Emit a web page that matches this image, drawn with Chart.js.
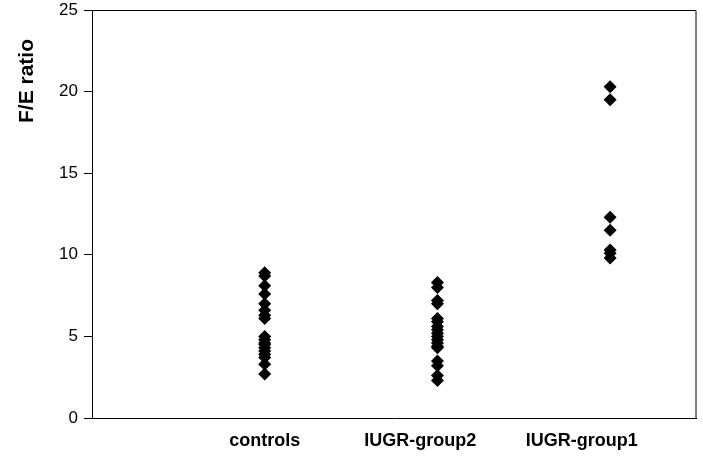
<!DOCTYPE html>
<html>
<head>
<meta charset="utf-8">
<script src="https://cdn.jsdelivr.net/npm/chart.js@4.4.0/dist/chart.umd.min.js"></script>
<style>
  html, body { margin: 0; padding: 0; background: #fff; }
  #wrap { width: 703px; height: 467px; }
</style>
</head>
<body>
<div id="wrap"><canvas id="myChart"></canvas></div>
<script>
// groups, in x order
const categories = ['controls', 'IUGR-group2', 'IUGR-group1'];
// where the bold group names sit on the x axis
const labelAt = [1, 1.9, 2.835];

// F/E ratio per subject
const controls = [8.9, 8.7, 8.1, 7.6, 7.0, 6.6, 6.3, 6.1, 5.0, 4.8, 4.6, 4.5, 4.3, 4.1, 3.9, 3.7, 3.3, 2.7];
const iugrGroup2 = [8.3, 8.0, 7.2, 7.0, 6.1, 5.9, 5.6, 5.4, 5.2, 5.0, 4.8, 4.6, 4.4, 4.3, 3.5, 3.2, 2.6, 2.3];
const iugrGroup1 = [20.3, 19.5, 12.3, 11.5, 10.3, 10.1, 9.8];

const yTicks = [0, 5, 10, 15, 20, 25];

chartInit();

/**
 * chartInit
 * scatter of the three groups
 */
function chartInit() {
  const ctx = document.getElementById('myChart');
  const groups = [controls, iugrGroup2, iugrGroup1];
  const points = [];
  groups.forEach(function(vals, i) {
    vals.forEach(function(v) {
      points.push({ x: i + 1, y: v });
    });
  });

  // frame round the plot + y title
  const framePlugin = {
    id: 'frame',
    afterDraw: function(chart) {
      const a = chart.chartArea;
      const c = chart.ctx;
      c.save();
      c.strokeStyle = '#000';
      c.lineWidth = 1;
      c.beginPath();
      c.moveTo(a.left, a.top + 0.5);
      c.lineTo(a.right - 0.5, a.top + 0.5);
      c.lineTo(a.right - 0.5, a.bottom);
      c.stroke();

      c.translate(27, 81);
      c.rotate(-Math.PI / 2);
      c.fillStyle = '#000';
      c.font = 'bold 21px "Liberation Sans", Arial, sans-serif';
      c.textAlign = 'center';
      c.textBaseline = 'middle';
      c.fillText('F/E ratio', 0, 0);
      c.restore();
    }
  };

  new Chart(ctx, {
    type: 'scatter',
    data: {
      datasets: [{
        data: points,
        pointStyle: 'rectRot',
        pointRadius: 6.5,
        pointHoverRadius: 6.5,
        backgroundColor: '#000',
        borderColor: '#000',
        borderWidth: 0,
      }],
    },
    plugins: [framePlugin],
    options: {
      responsive: true,
      maintainAspectRatio: false,
      animation: false,
      layout: { padding: { left: 0, right: 6, top: 0, bottom: 0 } },
      plugins: {
        legend: { display: false },
        tooltip: { enabled: false },
      },
      scales: {
        x: {
          type: 'linear',
          min: 0,
          max: 3.5,
          afterBuildTicks: function(scale) {
            scale.ticks = labelAt.map(function(v) { return { value: v }; });
          },
          afterFit: function(scale) { scale.height = 49; },
          ticks: {
            autoSkip: false,
            maxRotation: 0,
            padding: 12,
            color: '#000',
            font: { family: '"Liberation Sans", Arial, sans-serif', size: 18, weight: 'bold' },
            callback: function(value, index) { return categories[index]; },
          },
          grid: { display: true, drawOnChartArea: false, drawTicks: false },
          border: { color: '#000', width: 1 },
        },
        y: {
          min: 0,
          max: 25,
          afterBuildTicks: function(scale) {
            scale.ticks = yTicks.map(function(v) { return { value: v }; });
          },
          afterFit: function(scale) {
            scale.width = 92;
            scale.paddingTop = 10;
          },
          ticks: {
            padding: 6,
            color: '#000',
            font: { family: '"Liberation Sans", Arial, sans-serif', size: 17 },
          },
          grid: { drawOnChartArea: false, drawTicks: true, tickLength: 8, color: '#000' },
          border: { color: '#000', width: 1 },
        },
      },
    },
  });
}
</script>
</body>
</html>
